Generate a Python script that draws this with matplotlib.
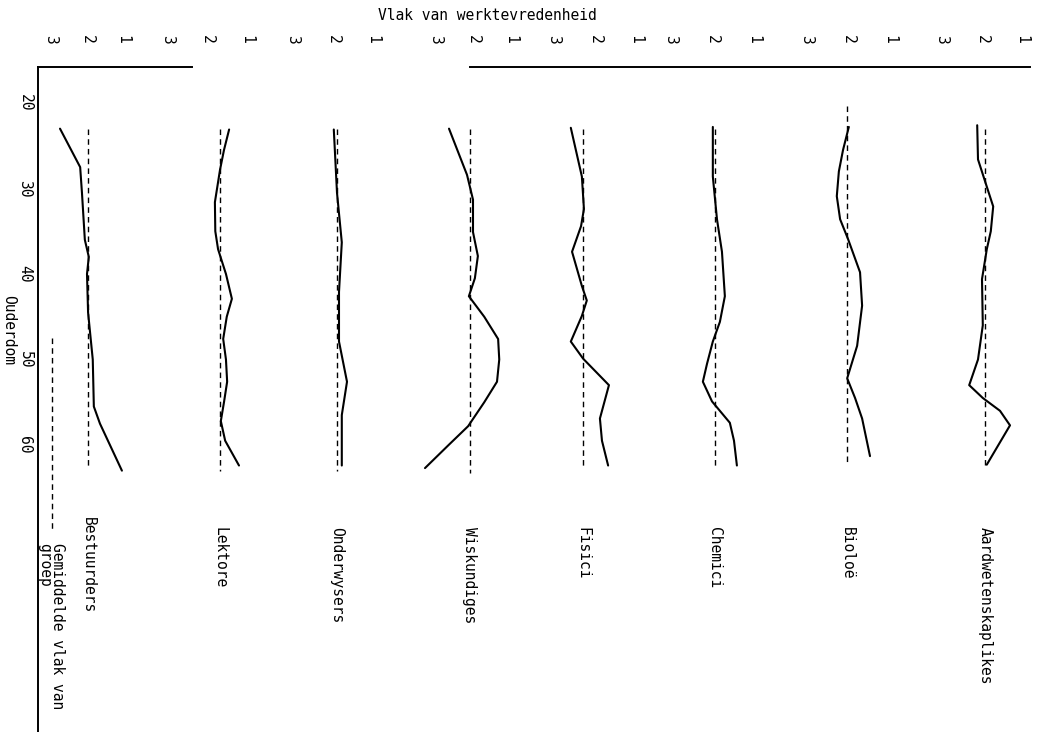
import numpy as np
import matplotlib.pyplot as plt

plt.rcParams['font.family'] = ['DejaVu Sans Mono']

groups = ['Bestuurders', 'Lektore', 'Onderwysers', 'Wiskundiges',
          'Fisici', 'Chemici', 'Bioloë', 'Aardwetenskaplikes']

# age (Ouderdom) and level of job satisfaction per group
age_bestuurders = [23, 27.5, 30.5, 36, 38, 40, 44.5, 50, 55.5, 57.5, 63]
sat_bestuurders = [2.75, 2.19, 2.14, 2.06, 1.95, 2.0, 1.97, 1.84, 1.81, 1.64, 1.03]

age_lektore = [23.1, 25.5, 27.8, 31.6, 35.0, 37.1, 40.0, 42.9, 45.0, 47.6,
               50.0, 52.6, 55.0, 57.2, 59.5, 62.4]
sat_lektore = [1.44, 1.57, 1.67, 1.80, 1.79, 1.72, 1.52, 1.37, 1.50, 1.59,
               1.52, 1.49, 1.57, 1.65, 1.54, 1.19]

age_onderwysers = [23.1, 30.5, 36.3, 42.1, 47.9, 52.6, 56.5, 62.4]
sat_onderwysers = [1.98, 1.90, 1.78, 1.85, 1.85, 1.65, 1.78, 1.78]

age_wiskundiges = [23.0, 28.4, 31.3, 35.1, 37.9, 40.5, 42.6, 45.0, 47.6,
                   50.0, 52.6, 55.0, 57.8, 60.0, 62.7]
sat_wiskundiges = [2.64, 2.16, 2.0, 2.0, 1.87, 1.95, 2.11, 1.70, 1.33,
                   1.30, 1.36, 1.70, 2.13, 2.65, 3.28]

age_fisici = [22.9, 28.6, 32.4, 34.4, 37.4, 41.4, 43.1, 44.9, 47.9, 49.9,
              53.0, 56.9, 59.5, 62.4]
sat_fisici = [2.59, 2.32, 2.27, 2.34, 2.56, 2.32, 2.20, 2.32, 2.59, 2.29,
              1.66, 1.88, 1.83, 1.68]

age_chemici = [22.8, 28.6, 33.6, 37.4, 42.6, 45.6, 47.9, 50.5, 52.6, 54.9,
               57.4, 59.5, 62.4]
sat_chemici = [1.98, 1.98, 1.88, 1.76, 1.69, 1.81, 1.98, 2.12, 2.22, 2.0,
               1.57, 1.47, 1.40]

age_bioloe = [22.8, 25.5, 28.0, 30.9, 33.6, 35.9, 39.8, 43.7, 48.4, 52.2,
              54.5, 56.9, 61.3]
sat_bioloe = [1.98, 2.12, 2.22, 2.27, 2.19, 2.0, 1.71, 1.66, 1.78, 2.02,
              1.83, 1.66, 1.47]

age_aardwet = [22.6, 26.6, 29.5, 32.1, 35.0, 37.1, 40.6, 46.0, 50.0, 53.0,
               54.5, 56.0, 57.7, 62.3]
sat_aardwet = [2.12, 2.10, 1.90, 1.72, 1.78, 1.88, 2.0, 1.98, 2.10, 2.32,
               1.98, 1.55, 1.30, 1.88]

# group mean level and the age span of the dashed line
group_mean = [1.97, 1.67, 1.90, 2.08, 2.29, 1.93, 2.02, 1.92]
mean_start = [23, 23, 23, 23, 23, 23, 20.3, 23]
mean_end = [62.8, 63, 63, 63.3, 62.8, 62.8, 62.3, 62.3]

ages = [age_bestuurders, age_lektore, age_onderwysers, age_wiskundiges,
        age_fisici, age_chemici, age_bioloe, age_aardwet]
sats = [sat_bestuurders, sat_lektore, sat_onderwysers, sat_wiskundiges,
        sat_fisici, sat_chemici, sat_bioloe, sat_aardwet]

W, H = 1038, 732
fig = plt.figure(figsize=(W / 100, H / 100), dpi=100)

# pixel layout of each panel: where level 3 and level 1 sit
x_at3 = [51, 167.5, 293, 435.5, 554, 670.5, 806.5, 942]
x_at1 = [123, 246.5, 373, 510.5, 636, 753.5, 889.5, 1022]
label_top = [517, 527, 527, 527, 527, 527, 527, 527]
top_px = 67


def age_at(py):
    return 20 + (py - 103) / 8.55


ylims = (age_at(H), age_at(top_px))

# frame with age axis
ax0 = fig.add_axes([38 / W, 0, (1030 - 38) / W, (H - top_px) / H])
ax0.set_ylim(*ylims)
ax0.set_xlim(0, 1)
for s in ['top', 'right', 'bottom']:
    ax0.spines[s].set_visible(False)
ax0.spines['left'].set_linewidth(1.4)
ax0.set_xticks([])
ax0.set_yticks([20, 30, 40, 50, 60])
ax0.set_yticklabels(['20', '30', '40', '50', '60'], rotation=-90, va='center')
ax0.tick_params(axis='y', length=0, pad=4, labelsize=10.5)
ax0.plot([0, (192 - 38) / 992], [1, 1], color='black', lw=1.4,
         transform=ax0.transAxes, clip_on=False)
ax0.plot([(470 - 38) / 992, 1], [1, 1], color='black', lw=1.4,
         transform=ax0.transAxes, clip_on=False)
ax0.patch.set_visible(False)
fig.text(9 / W, 1 - 330 / H, 'Ouderdom', rotation=-90, ha='center',
         va='center', fontsize=10.5)

for i, name in enumerate(groups):
    ax = fig.add_axes([x_at3[i] / W, 0, (x_at1[i] - x_at3[i]) / W, (H - top_px) / H])
    ax.set_xlim(3, 1)
    ax.set_ylim(*ylims)
    ax.patch.set_visible(False)
    for s in ax.spines.values():
        s.set_visible(False)
    ax.xaxis.tick_top()
    ax.set_xticks([3, 2, 1])
    ax.set_xticklabels(['3', '2', '1'], rotation=-90)
    ax.tick_params(axis='x', length=0, pad=17, labelsize=10.5)
    ax.set_yticks([])
    ax.plot(sats[i], ages[i], color='black', lw=1.5, clip_on=False,
            solid_capstyle='round', solid_joinstyle='round')
    ax.plot([group_mean[i], group_mean[i]], [mean_start[i], mean_end[i]],
            color='black', lw=1.0, dashes=(4, 3), clip_on=False)
    ax.text(group_mean[i], age_at(label_top[i]), name, rotation=-90,
            ha='center', va='top', fontsize=10.5)

# legend key
ax0.plot([(52 - 38) / 992] * 2, [(H - 338) / (H - top_px), (H - 530) / (H - top_px)],
         color='black', lw=1.0, dashes=(4, 3), transform=ax0.transAxes,
         clip_on=False)
fig.text(51 / W, 1 - 543 / H, 'Gemiddelde vlak van\ngroep', rotation=-90,
         ha='center', va='top', multialignment='left', fontsize=10.5,
         linespacing=0.85)

fig.text(0.47, 1 - 16 / H, 'Vlak van werktevredenheid', ha='center',
         va='center', fontsize=10.5)

fig.savefig('out.png', dpi=100)
